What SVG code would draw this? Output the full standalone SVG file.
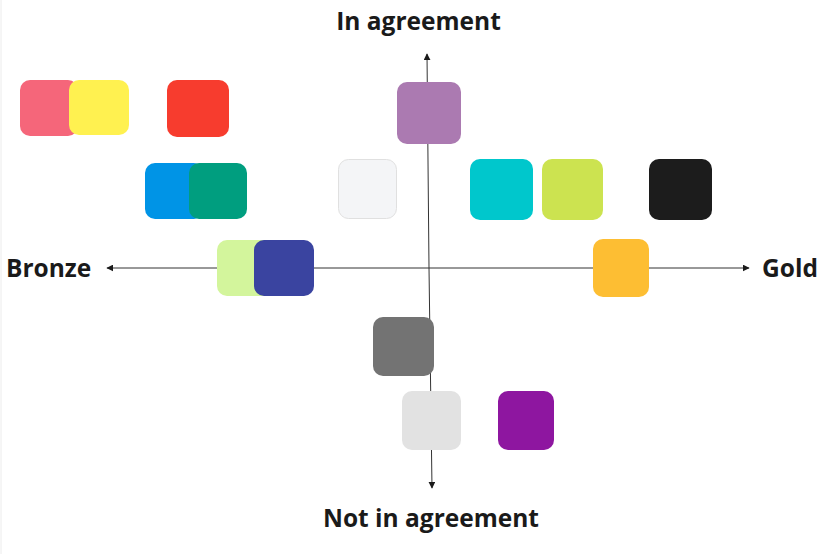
<svg xmlns="http://www.w3.org/2000/svg" width="826" height="554" viewBox="0 0 826 554">
<defs>
<style>
.lbl{font-family:"Open Sans","Noto Sans","Liberation Sans",sans-serif;font-weight:700;font-size:24.5px;fill:#1a1a1a}
.ax{stroke:#333;stroke-width:1;fill:none}
</style>
<marker id="ah" viewBox="0 0 10 10" refX="9" refY="5" markerWidth="7" markerHeight="7" orient="auto" markerUnits="userSpaceOnUse">
<path d="M0,0 L10,5 L0,10 z" fill="#1a1a1a"/>
</marker>
</defs>
<rect x="0" y="0" width="826" height="554" fill="#fff"/>
<line x1="1" y1="0" x2="1" y2="554" stroke="#ececec" stroke-width="1"/>
<g id="connectors">
<line class="ax" x1="429" y1="268" x2="427" y2="54" marker-end="url(#ah)"/>
<line class="ax" x1="429" y1="268" x2="432" y2="488" marker-end="url(#ah)"/>
<line class="ax" x1="429" y1="268" x2="107" y2="268" marker-end="url(#ah)"/>
<line class="ax" x1="429" y1="268" x2="749" y2="268" marker-end="url(#ah)"/>
</g>
<g id="label-top"><text class="lbl" x="418.5" y="30" text-anchor="middle">In agreement</text></g>
<g id="label-bottom"><text class="lbl" x="431" y="527" text-anchor="middle">Not in agreement</text></g>
<g id="label-left"><text class="lbl" x="6" y="277">Bronze</text></g>
<g id="label-right"><text class="lbl" x="762" y="277">Gold</text></g>
<g id="pink"><rect x="20" y="80" width="58" height="56" rx="10" fill="#f5667a"/></g>
<g id="yellow"><rect x="69" y="80" width="60" height="55" rx="10" fill="#fff150"/></g>
<g id="red"><rect x="167" y="80" width="62" height="57" rx="10" fill="#f73c2e"/></g>
<g id="mauve"><rect x="397" y="82" width="64" height="62" rx="10" fill="#ab7ab1"/></g>
<g id="blue"><rect x="145" y="163" width="59" height="56" rx="10" fill="#0094e6"/></g>
<g id="teal"><rect x="189" y="163" width="58" height="56" rx="10" fill="#009e7f"/></g>
<g id="offwhite"><rect x="338.5" y="159.5" width="58" height="59" rx="10" fill="#f4f5f7" stroke="#e0e0e0" stroke-width="1"/></g>
<g id="cyan"><rect x="470" y="159" width="63" height="61" rx="10" fill="#00c7cc"/></g>
<g id="lime"><rect x="542" y="159" width="61" height="61" rx="10" fill="#cce350"/></g>
<g id="black"><rect x="649" y="159" width="63" height="61" rx="10" fill="#1c1c1c"/></g>
<g id="lightgreen"><rect x="217" y="240" width="56" height="56" rx="10" fill="#d3f59c"/></g>
<g id="navy"><rect x="254" y="240" width="60" height="56" rx="10" fill="#3a44a0"/></g>
<g id="orange"><rect x="593" y="239" width="56" height="58" rx="10" fill="#fdbe33"/></g>
<g id="darkgray"><rect x="373" y="317" width="61" height="59" rx="10" fill="#737373"/></g>
<g id="lightgray"><rect x="402" y="391" width="59" height="59" rx="10" fill="#e2e2e2"/></g>
<g id="purple"><rect x="498" y="391" width="56" height="59" rx="10" fill="#8e16a0"/></g>
</svg>
